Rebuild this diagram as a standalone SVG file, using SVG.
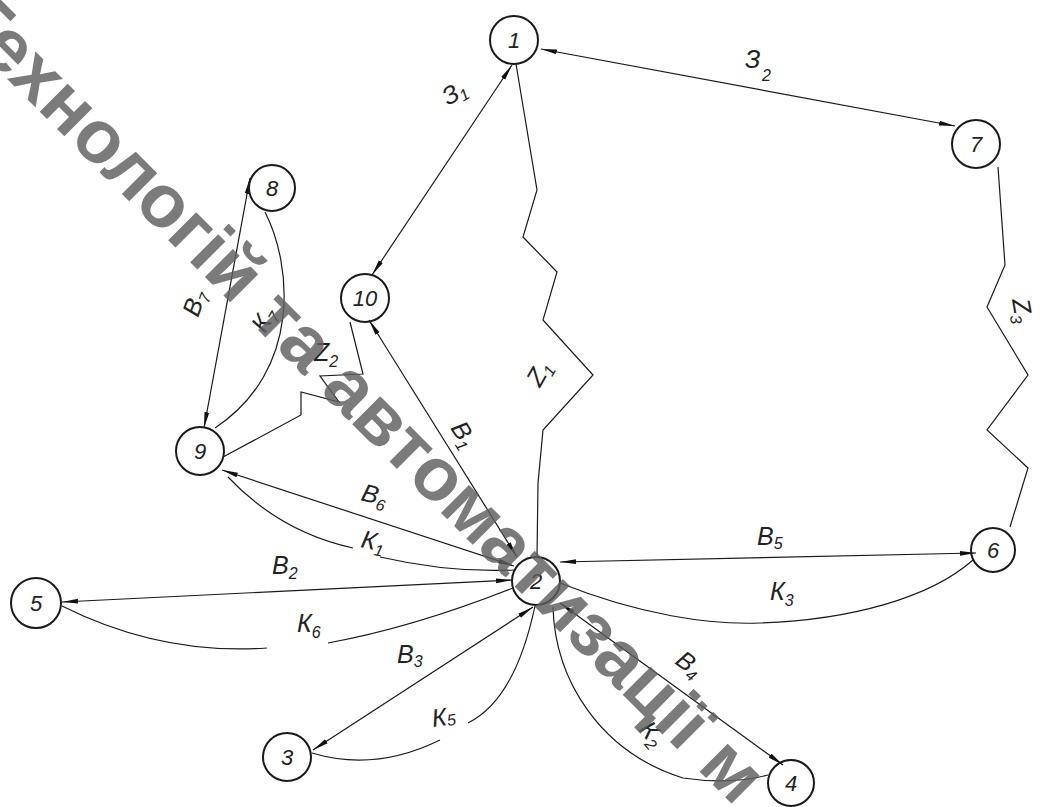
<svg xmlns="http://www.w3.org/2000/svg" width="1040" height="807" viewBox="0 0 1040 807">
<style>
.nd{fill:none;stroke:#1a1a1a;stroke-width:2}
.nl{font-family:"Liberation Sans",Arial,sans-serif;font-style:italic;font-size:22px;fill:#222;text-anchor:middle}
.ln{fill:none;stroke:#1a1a1a;stroke-width:1.2}
.ar{marker-start:url(#arr);marker-end:url(#arr)}
.lb{font-family:"Liberation Sans",Arial,sans-serif;font-style:italic;font-size:25px;fill:#222}
.sb{font-size:16px}
.wm{font-family:"Liberation Sans",Arial,sans-serif;font-weight:bold;font-size:75px;fill:#5e5e5e;fill-opacity:0.82}
</style>
<defs>
<marker id="arr" viewBox="0 0 16 6" refX="16" refY="3" markerWidth="16" markerHeight="6" markerUnits="userSpaceOnUse" orient="auto-start-reverse">
<path d="M0,0.6 L16,3 L0,5.4 z" fill="#111"/>
</marker>
</defs>
<rect width="1040" height="807" fill="#fff"/>

<g id="connectors">
<line class="ln ar" x1="541" y1="49" x2="955" y2="126"/>
<line class="ln ar" x1="512" y1="65" x2="372" y2="275"/>
<polyline class="ln" points="516,64 537,190 523,237 557,272 543,320 593,375 543,430 538,483 537,557"/>
<polyline class="ln" points="998,167 1005,265 987,307 1028,375 987,430 1028,468 1010,527"/>
<polyline class="ln" points="350,322 363,374 320,376 339,402 301,392 301,415 223,457"/>
<line class="ln ar" x1="517" y1="557" x2="369" y2="320"/>
<line class="ln ar" x1="250" y1="178" x2="204" y2="428"/>
<path class="ln" d="M265,212 C292,265 302,370 215,428"/>
<line class="ln ar" x1="222" y1="470" x2="514" y2="566"/>
<path class="ln" d="M228,477 Q280,532 353,548"/>
<path class="ln" d="M380,557 Q450,573 514,570"/>
<line class="ln ar" x1="512" y1="580" x2="62" y2="602"/>
<path class="ln" d="M62,606 C140,645 210,652 267,648"/>
<path class="ln" d="M328,643 C400,630 470,605 513,588"/>
<line class="ln ar" x1="533" y1="607" x2="313" y2="750"/>
<path class="ln" d="M312,753 Q375,772 440,740"/>
<path class="ln" d="M468,723 Q515,700 535,606"/>
<line class="ln ar" x1="560" y1="562" x2="976" y2="553"/>
<path class="ln" d="M560,583 C640,615 710,625 760,623 C850,620 930,598 973,560"/>
<line class="ln ar" x1="560" y1="603" x2="783" y2="765"/>
<path class="ln" d="M553,607 C555,680 600,752 683,778 Q730,785 768,775"/>
</g>

<g id="labels">
<text class="lb" x="745" y="68">З<tspan class="sb" x="762" y="81">2</tspan></text>
<text class="lb" transform="translate(448,106) rotate(-30)">З<tspan class="sb" dy="4">1</tspan></text>
<text class="lb" transform="translate(540,388) rotate(-60)">Z<tspan class="sb" dy="5">1</tspan></text>
<text class="lb" transform="translate(1012,300) rotate(80)">Z<tspan class="sb" dy="5">3</tspan></text>
<text class="lb" x="314" y="361">Z<tspan class="sb" dy="6">2</tspan></text>
<text class="lb" transform="translate(450,428) rotate(58)">В<tspan class="sb" dy="5">1</tspan></text>
<text class="lb" transform="translate(198,318) rotate(-70)">В<tspan class="sb" dy="5">7</tspan></text>
<text class="lb" transform="translate(265,334) rotate(-60)">К<tspan class="sb" dy="5">7</tspan></text>
<text class="lb" transform="translate(360,500) rotate(15)">В<tspan class="sb" dy="5">6</tspan></text>
<text class="lb" transform="translate(360,547) rotate(12)">К<tspan class="sb" dy="5">1</tspan></text>
<text class="lb" x="272" y="574">В<tspan class="sb" dy="5">2</tspan></text>
<text class="lb" x="297" y="632">К<tspan class="sb" dy="6">6</tspan></text>
<text class="lb" x="397" y="663">В<tspan class="sb" dy="4">3</tspan></text>
<text class="lb" transform="translate(433,727) rotate(-8)">К<tspan class="sb" dy="1">5</tspan></text>
<text class="lb" x="757" y="545">В<tspan class="sb" dy="4">5</tspan></text>
<text class="lb" x="770" y="600">К<tspan class="sb" dy="6">3</tspan></text>
<text class="lb" transform="translate(674,663) rotate(37)">В<tspan class="sb" dy="5">4</tspan></text>
<text class="lb" transform="translate(638,730) rotate(50)">К<tspan class="sb" dy="5">2</tspan></text>
</g>

<g id="node-1"><circle class="nd" cx="514" cy="40" r="24"/><text class="nl" x="514" y="48">1</text></g>
<g id="node-7"><circle class="nd" cx="976" cy="144" r="24"/><text class="nl" x="976" y="152">7</text></g>
<g id="node-8"><circle class="nd" cx="272" cy="188" r="23"/><text class="nl" x="272" y="196">8</text></g>
<g id="node-10"><circle class="nd" cx="365" cy="298" r="24"/><text class="nl" x="365" y="306">10</text></g>
<g id="node-9"><circle class="nd" cx="200" cy="451" r="24"/><text class="nl" x="200" y="459">9</text></g>
<g id="node-2"><circle class="nd" cx="536" cy="581" r="24"/><text class="nl" x="536" y="589">2</text></g>
<g id="node-6"><circle class="nd" cx="993" cy="550" r="22"/><text class="nl" x="993" y="558">6</text></g>
<g id="node-5"><circle class="nd" cx="36" cy="603" r="25"/><text class="nl" x="36" y="611">5</text></g>
<g id="node-3"><circle class="nd" cx="287" cy="757" r="24"/><text class="nl" x="287" y="765">3</text></g>
<g id="node-4"><circle class="nd" cx="791" cy="783" r="23"/><text class="nl" x="791" y="791">4</text></g>

<g id="watermark">
<text class="wm" transform="translate(-52,20) rotate(45)">Технологій та автоматизації м</text>
</g>
</svg>
